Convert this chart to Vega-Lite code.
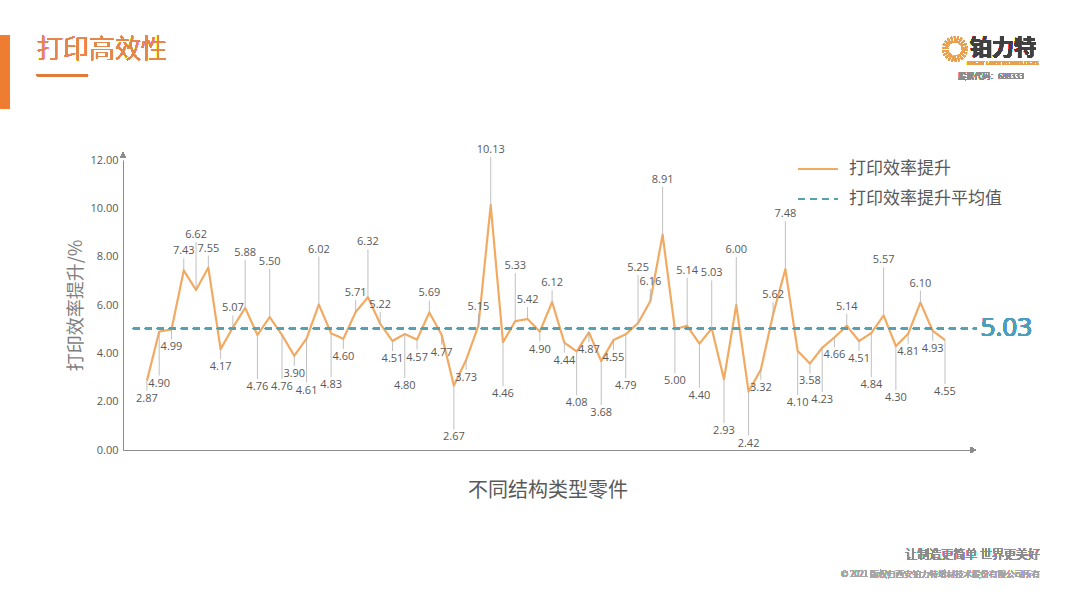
{
  "$schema": "https://vega.github.io/schema/vega-lite/v6.json",
  "width": 849,
  "height": 290,
  "autosize": "none",
  "padding": {"left": 123, "top": 160, "right": 108, "bottom": 158},
  "background": "white",
  "config": {
    "view": {"stroke": null},
    "font": "Noto Sans CJK SC",
    "legend": {
      "orient": "none",
      "legendX": 674,
      "legendY": -12,
      "symbolType": "stroke",
      "symbolSize": 1600,
      "symbolStrokeWidth": 2,
      "labelFontSize": 17,
      "labelColor": "#595959",
      "labelFont": "Noto Sans CJK SC",
      "labelOffset": 10,
      "rowPadding": 1,
      "labelLimit": 300
    }
  },
  "data": {
    "values": [
      {"i": 1, "v": 2.87}, {"i": 2, "v": 4.90}, {"i": 3, "v": 4.99}, {"i": 4, "v": 7.43},
      {"i": 5, "v": 6.62}, {"i": 6, "v": 7.55}, {"i": 7, "v": 4.17}, {"i": 8, "v": 5.07},
      {"i": 9, "v": 5.88}, {"i": 10, "v": 4.76}, {"i": 11, "v": 5.50}, {"i": 12, "v": 4.76},
      {"i": 13, "v": 3.90}, {"i": 14, "v": 4.61}, {"i": 15, "v": 6.02}, {"i": 16, "v": 4.83},
      {"i": 17, "v": 4.60}, {"i": 18, "v": 5.71}, {"i": 19, "v": 6.32}, {"i": 20, "v": 5.22},
      {"i": 21, "v": 4.51}, {"i": 22, "v": 4.80}, {"i": 23, "v": 4.57}, {"i": 24, "v": 5.69},
      {"i": 25, "v": 4.77}, {"i": 26, "v": 2.67}, {"i": 27, "v": 3.73}, {"i": 28, "v": 5.15},
      {"i": 29, "v": 10.13}, {"i": 30, "v": 4.46}, {"i": 31, "v": 5.33}, {"i": 32, "v": 5.42},
      {"i": 33, "v": 4.90}, {"i": 34, "v": 6.12}, {"i": 35, "v": 4.44}, {"i": 36, "v": 4.08},
      {"i": 37, "v": 4.87}, {"i": 38, "v": 3.68}, {"i": 39, "v": 4.55}, {"i": 40, "v": 4.79},
      {"i": 41, "v": 5.25}, {"i": 42, "v": 6.16}, {"i": 43, "v": 8.91}, {"i": 44, "v": 5.00},
      {"i": 45, "v": 5.14}, {"i": 46, "v": 4.40}, {"i": 47, "v": 5.03}, {"i": 48, "v": 2.93},
      {"i": 49, "v": 6.00}, {"i": 50, "v": 2.42}, {"i": 51, "v": 3.32}, {"i": 52, "v": 5.62},
      {"i": 53, "v": 7.48}, {"i": 54, "v": 4.10}, {"i": 55, "v": 3.58}, {"i": 56, "v": 4.23},
      {"i": 57, "v": 4.66}, {"i": 58, "v": 5.14}, {"i": 59, "v": 4.51}, {"i": 60, "v": 4.84},
      {"i": 61, "v": 5.57}, {"i": 62, "v": 4.30}, {"i": 63, "v": 4.81}, {"i": 64, "v": 6.10},
      {"i": 65, "v": 4.93}, {"i": 66, "v": 4.55}
    ]
  },
  "layer": [
    {
      "mark": {"type": "line", "strokeWidth": 2.2, "strokeJoin": "round"},
      "encoding": {
        "x": {
          "field": "i", "type": "quantitative",
          "scale": {"domain": [-0.95, 68.2], "nice": false, "zero": false},
          "axis": {
            "title": "不同结构类型零件", "titleFontSize": 20, "titleColor": "#595959",
            "titleFontWeight": "normal", "titlePadding": 30,
            "labels": false, "ticks": false, "grid": false,
            "domainColor": "#8c8c8c", "domainWidth": 1
          }
        },
        "y": {
          "field": "v", "type": "quantitative",
          "scale": {"domain": [0, 12], "nice": false},
          "axis": {
            "title": "打印效率提升/%", "titleFontSize": 18, "titleColor": "#7f7f7f",
            "titleFontWeight": "normal", "titlePadding": 4,
            "values": [0, 2, 4, 6, 8, 10, 12], "format": ".2f",
            "labelFontSize": 11, "labelColor": "#595959", "labelFont": "Open Sans", "labelPadding": 5,
            "ticks": false, "grid": false, "domainColor": "#8c8c8c", "domainWidth": 1
          }
        },
        "color": {
          "datum": "打印效率提升", "type": "nominal",
          "scale": {"domain": ["打印效率提升", "打印效率提升平均值"], "range": ["#F2AA62", "#5A9FAE"]},
          "legend": {"title": null}
        },
        "strokeDash": {
          "datum": "打印效率提升", "type": "nominal",
          "scale": {"domain": ["打印效率提升", "打印效率提升平均值"], "range": [[1, 0], [7, 5]]},
          "legend": {"title": null}
        }
      }
    },
    {
      "mark": {"type": "rule", "strokeWidth": 2},
      "encoding": {
        "x": {"datum": -0.14, "type": "quantitative"},
        "x2": {"datum": 68.6},
        "y": {"datum": 5.03, "type": "quantitative"},
        "color": {"datum": "打印效率提升平均值", "type": "nominal"},
        "strokeDash": {"datum": "打印效率提升平均值", "type": "nominal"}
      }
    },
    {
      "transform": [{"filter": "datum.v >= 5.03 && datum.i % 2 == 0"}],
      "mark": {"type": "rule", "y2Offset": -12, "color": "#B0B0B0", "strokeWidth": 0.8},
      "encoding": {"x": {"field": "i", "type": "quantitative"}, "y": {"field": "v", "type": "quantitative"}, "y2": {"field": "v"}}
    },
    {
      "transform": [{"filter": "datum.v >= 5.03 && datum.i % 2 == 1"}],
      "mark": {"type": "rule", "y2Offset": -48, "color": "#B0B0B0", "strokeWidth": 0.8},
      "encoding": {"x": {"field": "i", "type": "quantitative"}, "y": {"field": "v", "type": "quantitative"}, "y2": {"field": "v"}}
    },
    {
      "transform": [{"filter": "datum.v < 5.03 && datum.i % 2 == 1"}],
      "mark": {"type": "rule", "y2Offset": 10, "color": "#B0B0B0", "strokeWidth": 0.8},
      "encoding": {"x": {"field": "i", "type": "quantitative"}, "y": {"field": "v", "type": "quantitative"}, "y2": {"field": "v"}}
    },
    {
      "transform": [{"filter": "datum.v < 5.03 && datum.i % 2 == 0"}],
      "mark": {"type": "rule", "y2Offset": 44, "color": "#B0B0B0", "strokeWidth": 0.8},
      "encoding": {"x": {"field": "i", "type": "quantitative"}, "y": {"field": "v", "type": "quantitative"}, "y2": {"field": "v"}}
    },
    {
      "transform": [{"filter": "datum.v >= 5.03 && datum.i % 2 == 0"}],
      "mark": {"type": "text", "dy": -14, "baseline": "bottom", "fontSize": 11, "color": "#595959", "font": "Open Sans"},
      "encoding": {"x": {"field": "i", "type": "quantitative"}, "y": {"field": "v", "type": "quantitative"}, "text": {"field": "v", "type": "quantitative", "format": ".2f"}}
    },
    {
      "transform": [{"filter": "datum.v >= 5.03 && datum.i % 2 == 1"}],
      "mark": {"type": "text", "dy": -50, "baseline": "bottom", "fontSize": 11, "color": "#595959", "font": "Open Sans"},
      "encoding": {"x": {"field": "i", "type": "quantitative"}, "y": {"field": "v", "type": "quantitative"}, "text": {"field": "v", "type": "quantitative", "format": ".2f"}}
    },
    {
      "transform": [{"filter": "datum.v < 5.03 && datum.i % 2 == 1"}],
      "mark": {"type": "text", "dy": 12, "baseline": "top", "fontSize": 11, "color": "#595959", "font": "Open Sans"},
      "encoding": {"x": {"field": "i", "type": "quantitative"}, "y": {"field": "v", "type": "quantitative"}, "text": {"field": "v", "type": "quantitative", "format": ".2f"}}
    },
    {
      "transform": [{"filter": "datum.v < 5.03 && datum.i % 2 == 0"}],
      "mark": {"type": "text", "dy": 46, "baseline": "top", "fontSize": 11, "color": "#595959", "font": "Open Sans"},
      "encoding": {"x": {"field": "i", "type": "quantitative"}, "y": {"field": "v", "type": "quantitative"}, "text": {"field": "v", "type": "quantitative", "format": ".2f"}}
    },
    {
      "mark": {"type": "text", "align": "left", "baseline": "middle", "fontSize": 26, "color": "#4E9FBA", "font": "Open Sans"},
      "encoding": {
        "x": {"datum": 68.9, "type": "quantitative"},
        "y": {"datum": 5.03, "type": "quantitative"},
        "text": {"datum": "5.03"}
      }
    },
    {
      "mark": {"type": "point", "shape": "triangle-up", "filled": true, "color": "#8c8c8c", "size": 36, "opacity": 1},
      "encoding": {"x": {"datum": -0.95, "type": "quantitative"}, "y": {"datum": 12.2, "type": "quantitative"}}
    },
    {
      "mark": {"type": "point", "shape": "triangle-right", "filled": true, "color": "#8c8c8c", "size": 36, "opacity": 1},
      "encoding": {"x": {"datum": 68.3, "type": "quantitative"}, "y": {"datum": 0, "type": "quantitative"}}
    },
    {
      "mark": {"type": "rect", "color": "#EE7D31"},
      "encoding": {
        "x": {"datum": -10.97, "type": "quantitative"}, "x2": {"datum": -10.16},
        "y": {"datum": 17.17, "type": "quantitative"}, "y2": {"datum": 14.15}
      }
    },
    {
      "mark": {"type": "text", "align": "left", "baseline": "middle", "fontSize": 26, "fontWeight": 300, "color": "#E5874A"},
      "encoding": {"x": {"datum": -7.96, "type": "quantitative"}, "y": {"datum": 16.55, "type": "quantitative"}, "text": {"datum": "打印高效性"}}
    },
    {
      "mark": {"type": "rule", "color": "#E07B3A", "strokeWidth": 2},
      "encoding": {
        "x": {"datum": -7.96, "type": "quantitative"}, "x2": {"datum": -3.8},
        "y": {"datum": 15.51, "type": "quantitative"}
      }
    },
    {
      "mark": {"type": "point", "shape": "circle", "filled": false, "stroke": "#E8A050", "strokeWidth": 6, "strokeDash": [1.2, 1.6], "size": 380, "opacity": 1},
      "encoding": {"x": {"datum": 66.81, "type": "quantitative"}, "y": {"datum": 16.59, "type": "quantitative"}}
    },
    {
      "mark": {"type": "text", "align": "center", "baseline": "middle", "fontSize": 22, "fontWeight": "bold", "color": "#404040"},
      "encoding": {"x": {"datum": 70.72, "type": "quantitative"}, "y": {"datum": 16.63, "type": "quantitative"}, "text": {"datum": "铂力特"}}
    },
    {
      "mark": {"type": "text", "align": "center", "baseline": "middle", "fontSize": 5, "color": "#E8A050", "font": "Open Sans"},
      "encoding": {"x": {"datum": 70.72, "type": "quantitative"}, "y": {"datum": 16.0, "type": "quantitative"}, "text": {"datum": "BRIGHT LASER TECHNOLOGIES"}}
    },
    {
      "mark": {"type": "text", "align": "center", "baseline": "middle", "fontSize": 8, "fontWeight": 300, "color": "#8c8c8c"},
      "encoding": {"x": {"datum": 69.75, "type": "quantitative"}, "y": {"datum": 15.43, "type": "quantitative"}, "text": {"datum": "股票代码：688333"}}
    },
    {
      "mark": {"type": "text", "align": "right", "baseline": "middle", "fontSize": 12, "fontWeight": 300, "color": "#8c8c8c"},
      "encoding": {"x": {"datum": 73.74, "type": "quantitative"}, "y": {"datum": -4.34, "type": "quantitative"}, "text": {"datum": "让制造更简单 世界更美好"}}
    },
    {
      "mark": {"type": "text", "align": "right", "baseline": "middle", "fontSize": 8.5, "fontWeight": 300, "color": "#a6a6a6"},
      "encoding": {"x": {"datum": 73.74, "type": "quantitative"}, "y": {"datum": -5.13, "type": "quantitative"}, "text": {"datum": "© 2021 版权归西安铂力特增材技术股份有限公司所有"}}
    }
  ]
}
